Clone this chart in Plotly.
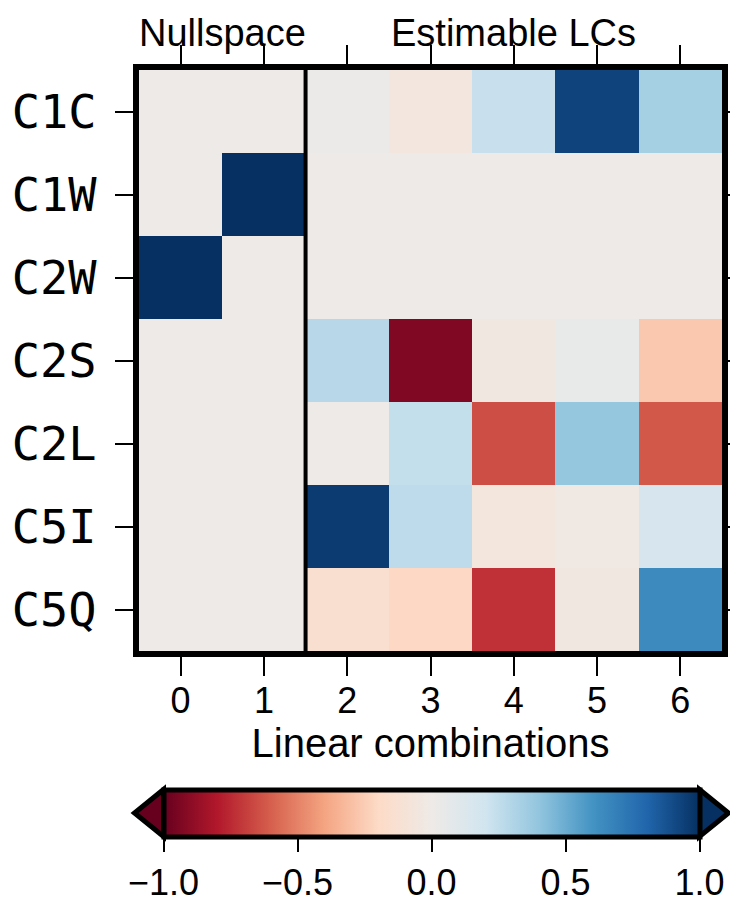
import plotly.graph_objects as go

# ---- data ----
rows = ["C1C", "C1W", "C2W", "C2S", "C2L", "C5I", "C5Q"]
cols = [0, 1, 2, 3, 4, 5, 6]
z = [
    [0.00, 0.00, 0.02, -0.05, 0.23, 0.93, 0.34],
    [0.00, 1.00, 0.00, 0.00, 0.00, 0.00, 0.00],
    [1.00, 0.00, 0.00, 0.00, 0.00, 0.00, 0.00],
    [0.00, 0.00, 0.28, -0.93, -0.04, 0.04, -0.27],
    [0.00, 0.00, 0.00, 0.24, -0.65, 0.39, -0.62],
    [0.00, 0.00, 0.96, 0.26, -0.06, -0.03, 0.16],
    [0.00, 0.00, -0.15, -0.21, -0.73, -0.04, 0.64],
]
cb_ticks = [-1.0, -0.5, 0.0, 0.5, 1.0]
cb_ticktext = ["\u22121.0", "\u22120.5", "0.0", "0.5", "1.0"]
group_labels = ["Nullspace", "Estimable LCs"]
group_centers = [0.5, 4]

colorscale = [
    [0.0, "rgb(103,0,31)"],
    [0.1, "rgb(178,24,43)"],
    [0.2, "rgb(214,96,77)"],
    [0.3, "rgb(244,165,130)"],
    [0.4, "rgb(253,219,199)"],
    [0.5, "rgb(238,234,231)"],
    [0.6, "rgb(209,229,240)"],
    [0.7, "rgb(146,197,222)"],
    [0.8, "rgb(67,147,195)"],
    [0.9, "rgb(33,102,172)"],
    [1.0, "rgb(5,48,97)"],
]

# page body has an 8px margin; figure coordinates are relative to the figure
W, H = 730, 898
ML, MR, MT, MB = 131, 16, 62, 255
PW, PH = W - ML - MR, H - MT - MB

def px2x(px):
    return (px - ML) / PW

def px2y(py):
    return (MT + PH - py) / PH

# colorbar geometry (figure pixels)
cb_len = 536
cb_thick = 47
cb_cx = 423.5
cb_cy = 805
tri_w = 29

fig = go.Figure()
fig.add_trace(go.Heatmap(
    z=z, x=cols, y=list(range(len(rows))),
    colorscale=colorscale, zmin=-1, zmax=1,
    xgap=0, ygap=0,
    colorbar=dict(
        orientation="h",
        lenmode="pixels", len=cb_len,
        thicknessmode="pixels", thickness=cb_thick,
        x=px2x(cb_cx), xanchor="center",
        y=px2y(cb_cy - cb_thick / 2), yanchor="top",
        xpad=0, ypad=0,
        outlinewidth=5, outlinecolor="black",
        ticks="outside", ticklen=13, tickwidth=2, tickcolor="black",
        tickvals=cb_ticks, ticktext=cb_ticktext,
        tickfont=dict(family="Liberation Sans", size=36, color="black"),
    ),
))

# separator between nullspace and estimable LCs
fig.add_shape(type="line", x0=1.5, x1=1.5, y0=0, y1=1, xref="x", yref="paper",
              line=dict(color="black", width=4))

# colorbar end triangles
x_l = cb_cx - cb_len / 2
x_r = cb_cx + cb_len / 2
y_t = cb_cy - cb_thick / 2
y_b = cb_cy + cb_thick / 2
for base, tip, color in [(x_l, x_l - tri_w, colorscale[0][1]), (x_r, x_r + tri_w, colorscale[-1][1])]:
    path = (f"M {px2x(base)},{px2y(y_t)} L {px2x(tip)},{px2y(cb_cy)} "
            f"L {px2x(base)},{px2y(y_b)} Z")
    fig.add_shape(type="path", path=path, xref="paper", yref="paper",
                  fillcolor=color, line=dict(color="black", width=5))

# group labels on top
for label, cx in zip(group_labels, group_centers):
    fig.add_annotation(text=label, x=cx, xref="x", xanchor="center",
                       y=1, yref="paper", yanchor="bottom", yshift=14, showarrow=False,
                       font=dict(family="Liberation Sans", size=38, color="black"))

fig.update_xaxes(
    range=[-0.5, 6.5], tickvals=cols, ticktext=[str(c) for c in cols],
    showline=True, linewidth=6, linecolor="black", mirror="ticks",
    ticks="outside", ticklen=19, tickwidth=2, tickcolor="black",
    tickfont=dict(family="Liberation Sans", size=36, color="black"),
    ticklabelstandoff=-6,
    title=dict(text="Linear combinations", standoff=0,
               font=dict(family="Liberation Sans", size=40, color="black")),
    showgrid=False, zeroline=False, automargin=False,
)
fig.update_yaxes(
    range=[6.5, -0.5], tickvals=list(range(len(rows))), ticktext=rows,
    showline=True, linewidth=6, linecolor="black", mirror="ticks",
    ticks="outside", ticklen=18, tickwidth=2, tickcolor="black",
    tickfont=dict(family="DejaVu Sans Mono", size=47, color="black"),
    ticklabelstandoff=9,
    showgrid=False, zeroline=False, automargin=False,
)
fig.update_layout(
    width=W, height=H,
    margin=dict(l=ML, r=MR, t=MT, b=MB, autoexpand=False),
    paper_bgcolor="white", plot_bgcolor="white",
    showlegend=False,
)
fig.write_html("out.html")
